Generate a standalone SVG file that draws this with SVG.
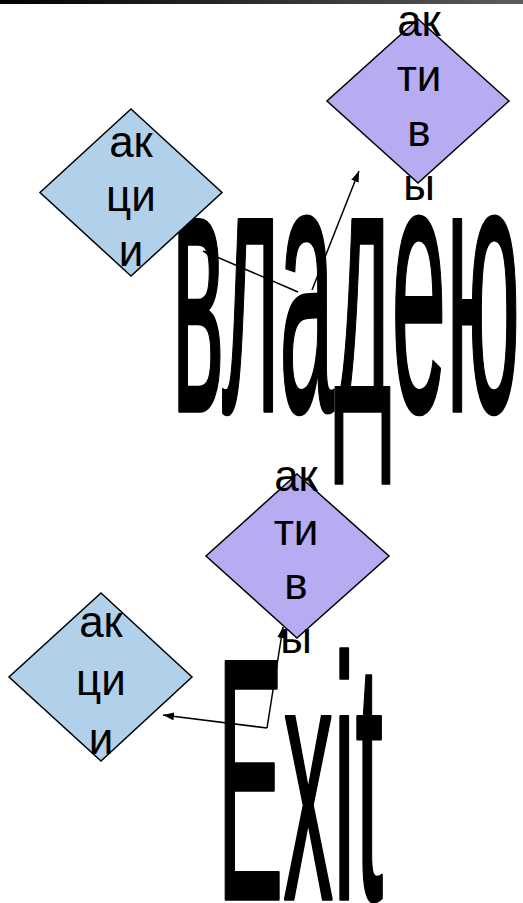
<svg xmlns="http://www.w3.org/2000/svg" width="523" height="903" viewBox="0 0 523 903">
  <defs>
    <linearGradient id="bar" x1="0" y1="0" x2="1" y2="0">
      <stop offset="0" stop-color="#000000"/>
      <stop offset="1" stop-color="#5c5c5c"/>
    </linearGradient>
    <marker id="arrow" markerUnits="userSpaceOnUse" markerWidth="12" markerHeight="9" refX="11" refY="4" orient="auto">
      <path d="M0,0 L11,4 L0,8 z" fill="#000"/>
    </marker>
  </defs>
  <style>
    .dia { stroke: #000; stroke-width: 1.5; }
    .blue { fill: #b1d1ea; }
    .purple { fill: #b7abf2; }
    .lbl { font-family: "Liberation Sans", Arial, sans-serif; font-size: 44px; fill: #000; text-anchor: middle; }
    .big { font-family: "Liberation Sans", Arial, sans-serif; font-weight: normal; fill: #000; stroke: #000; stroke-width: 3.5; stroke-linejoin: round; }
    .conn { stroke: #000; stroke-width: 1.5; fill: none; marker-end: url(#arrow); }
  </style>
  <rect x="0" y="0" width="523" height="4" fill="url(#bar)"/>

  <g id="connectors">
    <line class="conn" x1="298" y1="292" x2="203" y2="251"/>
    <line class="conn" x1="312" y1="290" x2="359" y2="171"/>
    <line class="conn" x1="267" y1="728" x2="163" y2="715"/>
    <line class="conn" x1="267" y1="728" x2="283" y2="627"/>
  </g>

  <g id="title-vladeyu">
    <text class="big" x="172" y="411" font-size="362" textLength="348" lengthAdjust="spacingAndGlyphs">владею</text>
  </g>
  <g id="title-exit">
    <text class="big" x="217" y="899" font-size="345" textLength="166" lengthAdjust="spacingAndGlyphs">Exit</text>
  </g>

  <g id="node-akcii-1">
    <polygon class="dia blue" points="131,109 222,192.5 131,276 40,192.5"/>
    <text class="lbl" x="131" y="157">ак</text>
    <text class="lbl" x="131" y="211">ци</text>
    <text class="lbl" x="131" y="266">и</text>
  </g>
  <g id="node-aktivy-1">
    <polygon class="dia purple" points="418,19 509,101 418,183 327,101"/>
    <text class="lbl" x="419" y="36">ак</text>
    <text class="lbl" x="419" y="91">ти</text>
    <text class="lbl" x="419" y="146">в</text>
    <text class="lbl" x="419" y="200">ы</text>
  </g>
  <g id="node-aktivy-2">
    <polygon class="dia purple" points="297,474 389,556 297,638 206,556"/>
    <text class="lbl" x="296" y="491">ак</text>
    <text class="lbl" x="296" y="545">ти</text>
    <text class="lbl" x="296" y="599">в</text>
    <text class="lbl" x="296" y="653">ы</text>
  </g>
  <g id="node-akcii-2">
    <polygon class="dia blue" points="101,593 192,677 101,761 9,677"/>
    <text class="lbl" x="101" y="637">ак</text>
    <text class="lbl" x="101" y="695">ци</text>
    <text class="lbl" x="101" y="754">и</text>
  </g>
</svg>
